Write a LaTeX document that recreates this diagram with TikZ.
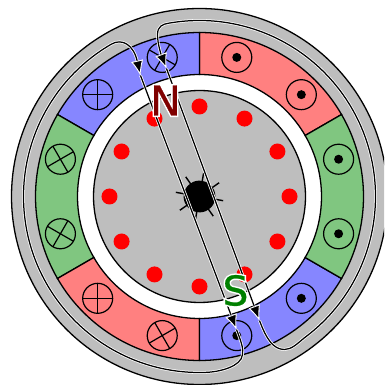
\documentclass[tikz,border=0pt]{standalone}
\usepackage{xcolor}
\usepackage{fontspec}
\newfontfamily\polefont[FakeBold=0.6]{DejaVu Sans}
\newfontfamily\poleedgefont[FakeBold=8]{DejaVu Sans}
\usetikzlibrary{arrows.meta,calc}
\definecolor{motgray}{HTML}{BEBEBE}
\definecolor{motblue}{HTML}{8686FF}
\definecolor{motred}{HTML}{FF8080}
\definecolor{motgreen}{HTML}{80C680}
\definecolor{motnorth}{HTML}{800000}
\definecolor{motsouth}{HTML}{008000}
\tikzset{
  edgeline/.style={draw=black, line width=1.3pt},
  fieldline/.style={preaction={draw=white, line width=2.8pt}, draw=black, line width=1.25pt},
  fieldtip/.style={-{Latex[length=15pt,width=12pt,color=white,fill=black,line width=0.8pt]}},
  polelabel/.style={font=\polefont\fontsize{41}{41}\selectfont, inner sep=0pt},
  poleedge/.style={font=\poleedgefont\fontsize{41}{41}\selectfont, inner sep=0pt, text=white}
}
\begin{document}
\begin{tikzpicture}[x=1pt,y=1pt]
  \useasboundingbox (-199.5,-188.5) rectangle (184.5,196.5);
  \clip (-199.5,-188.5) rectangle (184.5,196.5);

  % Stator yoke and air gap
  \fill[motgray] (0,0) circle (188);
  \draw[edgeline] (0,0) circle (188);
  \fill[white] (0,0) circle (122);

  % Winding sectors
  \foreach \from/\to/\col in {30/90/motred, 90/150/motblue, 150/210/motgreen, 210/270/motred, 270/330/motblue, 330/390/motgreen} {
    \filldraw[edgeline, fill=\col] (\from:122) arc (\from:\to:122) -- (\to:164) arc (\to:\from:164) -- cycle;
  }

  % Conductors: crosses on the left, dots on the right
  \foreach \ang in {105,135,165,195,225,255} {
    \draw[line width=1.2pt] (\ang:144) circle (15);
    \draw[line width=1.2pt] ($(\ang:144)+(\ang+45:15)$) -- ($(\ang:144)+(\ang+225:15)$);
    \draw[line width=1.2pt] ($(\ang:144)+(\ang+135:15)$) -- ($(\ang:144)+(\ang+315:15)$);
  }
  \foreach \ang in {-75,-45,-15,15,45,75} {
    \draw[line width=1.2pt] (\ang:144) circle (15);
    \fill (\ang:144) circle (4.5);
  }

  % Rotor
  \fill[motgray] (0,0) circle (106);
  \draw[edgeline] (0,0) circle (106);
  \foreach \ang in {0,30,...,330} {
    \fill[red] (\ang:90) circle (8);
  }

  % Shaft
  \foreach \ang in {35,80,...,350} {
    \draw[line width=1.4pt] (\ang:13) -- (\ang:24);
  }
  \fill[rounded corners=5pt] (12.5:17) -- (57.5:17) -- (102.5:17) -- (147.5:17) -- (192.5:17) -- (237.5:17) -- (282.5:17) -- (327.5:17) -- cycle;

  % Left field loop
  \coordinate (topleft) at (-59,121);
  \coordinate (botleft) at (37,-133);
  \draw[fieldline, fieldtip] (botleft) .. controls (42,-146) and (44,-152) .. (43,-158) .. controls (42,-170) and (20,-175.5) .. (272:176) arc (272:120:176) .. controls (-77.6,158.4) and (-66,152) .. (topleft);
  \draw[fieldline, fieldtip] (topleft) -- (botleft);

  % Right field loop
  \coordinate (topright) at (-33,128);
  \coordinate (botright) at (60,-124);
  \draw[fieldline, fieldtip] (botright) .. controls (67,-143) and (74,-153) .. (85,-153) .. controls (92,-153) and (98,-147) .. (-53.5:176) arc (-53.5:100:176) .. controls (-37,172.5) and (-42,170) .. (-42,162) .. controls (-42,152) and (-38,141) .. (topright);
  \draw[fieldline, fieldtip] (topright) -- (botright);

  % Pole labels
  \node[poleedge] (northedge) at (-34,96) {N};
  \node[polelabel, text=motnorth] (north) at (northedge) {N};
  \node[poleedge] (southedge) at (36,-94) {S};
  \node[polelabel, text=motsouth] (south) at (southedge) {S};
\end{tikzpicture}
\end{document}
